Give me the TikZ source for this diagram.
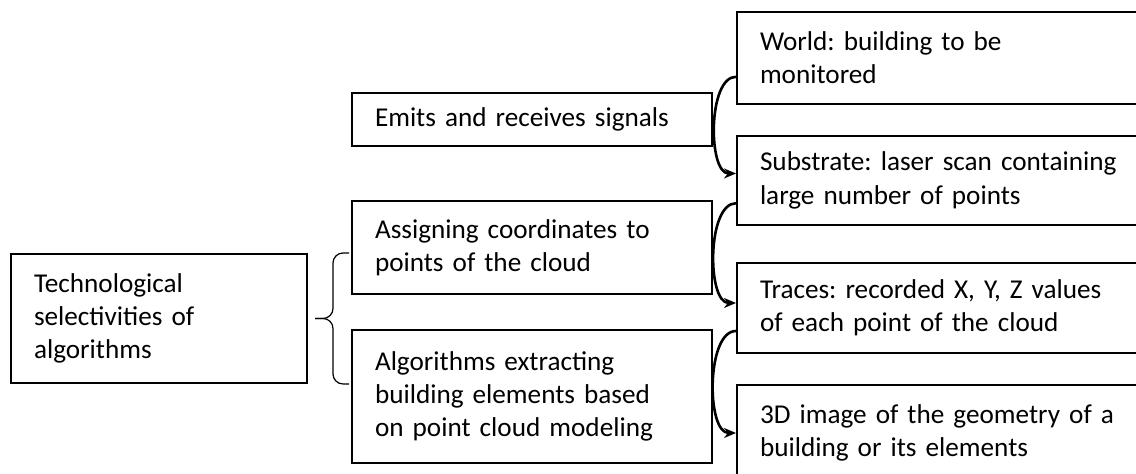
\documentclass[tikz,border=0pt]{standalone}
\usepackage{fontspec}
\setmainfont{Carlito}
\usetikzlibrary{positioning,calc,arrows.meta}

\begin{document}
\begin{tikzpicture}[x=0.5pt, y=0.5pt, box/.style={draw=black, line width=1pt, anchor=north west, inner xsep=11.5pt, inner ysep=0pt, align=left, font=\fontsize{13.6}{16.6}\selectfont\frenchspacing}, midbox/.style={box, text width=157pt}, rightbox/.style={box, text width=184pt}, curved/.style={-{Stealth[length=6pt,width=5pt]}, line width=1.3pt, out=180, in=180, looseness=0.75}, bracket/.style={line width=0.6pt, rounded corners=5pt}]
\useasboundingbox (0,0) rectangle (1136,474);
\node[box, text width=125pt, minimum height=64.5pt] (tech) at (10,221) {Technological\\selectivities of\\algorithms};
\node[midbox, minimum height=26.5pt] (emits) at (351,382) {Emits and receives signals};
\node[midbox, minimum height=46.5pt] (assign) at (351,274) {Assigning coordinates to\\points of the cloud};
\node[midbox, minimum height=66.5pt] (algo) at (351,145) {Algorithms extracting\\building elements based\\on point cloud modeling};
% right column runs past the page edge
\node[rightbox, minimum height=46pt] (world) at (736,463) {World: building to be\\monitored};
\node[rightbox, minimum height=44.5pt] (subst) at (736,339) {Substrate: laser scan containing\\large number of points};
\node[rightbox, minimum height=45pt] (traces) at (736,212) {Traces: recorded X, Y, Z values\\of each point of the cloud};
\node[rightbox, minimum height=48pt] (img3d) at (736,90) {3D image of the geometry of a\\building or its elements};
% brace between the left box and the middle column
\coordinate (btop) at ([xshift=-1pt]assign.west |- tech.north);
\coordinate (bbot) at ([xshift=-1pt]algo.west |- tech.south);
\coordinate (btip) at ([xshift=3.5pt]tech.east);
\draw[bracket] (btop) -| ([xshift=9pt]btip) -- (btip);
\draw[bracket] (bbot) -| ([xshift=9pt]btip) -- (btip);
\draw[curved] ($(world.west)!0.4!(world.south west)$) to ([yshift=3.5pt]subst.west);
\draw[curved] ($(subst.west)!0.5!(subst.south west)$) to ([yshift=2.5pt]traces.west);
\draw[curved] ($(traces.west)!0.5!(traces.south west)$) to (img3d.west);
\end{tikzpicture}
\end{document}
